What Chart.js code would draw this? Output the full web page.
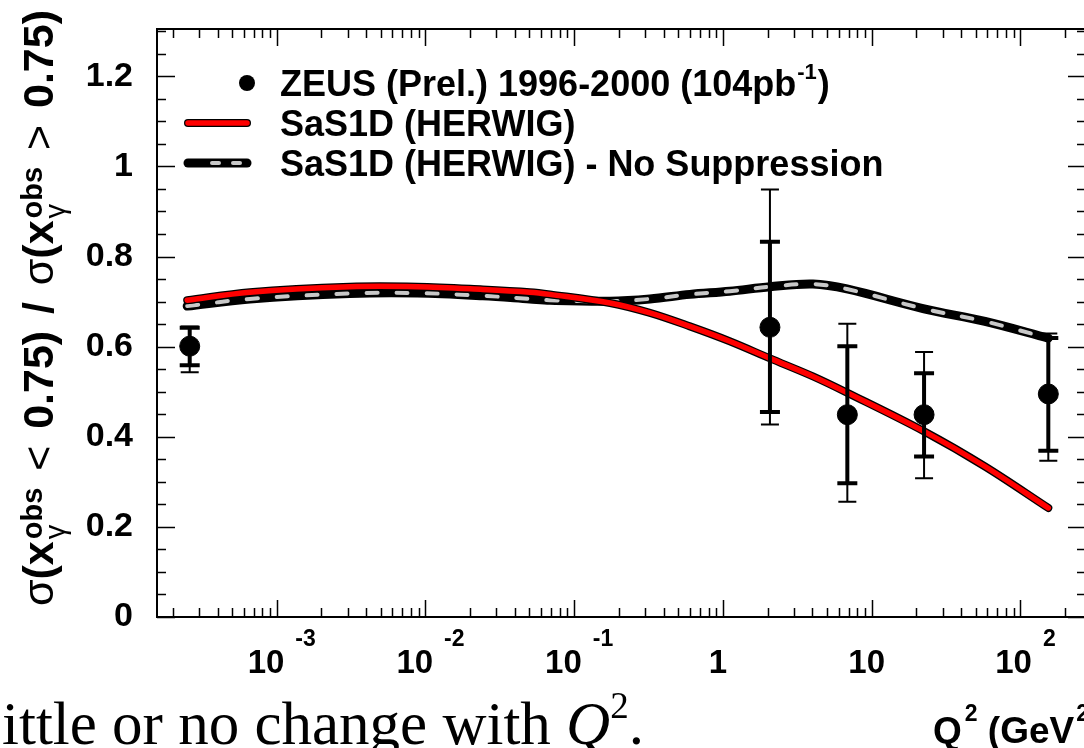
<!DOCTYPE html>
<html>
<head>
<meta charset="utf-8">
<script src="https://cdn.jsdelivr.net/npm/chart.js@4.4.1/dist/chart.umd.min.js"></script>
<style>
  html, body { margin: 0; padding: 0; background: #fff; overflow: hidden; }
  #wrap { position: relative; width: 1100px; height: 748px; }
</style>
</head>
<body>
<div id="wrap"><canvas id="ratioChart" width="1100" height="748"></canvas></div>
<script>
// ZEUS data: ratio sigma(x_gamma < 0.75) / sigma(x_gamma > 0.75) vs Q^2
const pointQ2 = [2.6e-4, 2.07, 6.86, 22.5, 154];
const pointRatio = [0.601, 0.643, 0.449, 0.449, 0.495];
const statHigh = [0.642, 0.833, 0.601, 0.541, 0.619];
const statLow = [0.559, 0.455, 0.297, 0.356, 0.369];
const totHigh = [0.645, 0.949, 0.651, 0.588, 0.629];
const totLow = [0.543, 0.427, 0.256, 0.308, 0.347];

// MC predictions
const curveQ2 = [2.5e-4, 6.6e-4, 3.1e-3, 8.8e-3, 0.0243, 0.0503, 0.0687, 0.174, 0.323, 0.60, 1.11, 2.07, 4.03, 6.82, 22.5, 57.8, 154];
const sas1d = [0.703, 0.721, 0.733, 0.733, 0.727, 0.721, 0.716, 0.697, 0.675, 0.645, 0.612, 0.574, 0.534, 0.498, 0.412, 0.334, 0.242];
const sas1dNoSup = [0.690, 0.706, 0.718, 0.719, 0.713, 0.706, 0.703, 0.701, 0.706, 0.716, 0.723, 0.733, 0.739, 0.728, 0.684, 0.656, 0.619];

// axis labels
const xDecades = [-3, -2, -1, 0, 1, 2];
const legendLabels = ['ZEUS (Prel.) 1996-2000 (104pb', 'SaS1D (HERWIG)', 'SaS1D (HERWIG) - No Suppression'];

const FONT = '"Liberation Sans", Arial, Helvetica, sans-serif';
const SERIF = '"Liberation Serif", "Times New Roman", serif';

function setFont(ctx, p) {
  ctx.font = (p.style || 'normal') + ' ' + (p.weight || 'bold') + ' ' + p.size + 'px ' + (p.family || FONT);
}

// draw a run of text pieces; "stack" pieces are sub/superscripts sharing one x,
// "flex" pieces get an equal share of extra room
function drawRich(ctx, x, y, parts, measureOnly, extra) {
  let cx = x;
  for (const p of parts) {
    if (p.stack) {
      let w = 0;
      for (const s of p.stack) {
        setFont(ctx, s);
        if (!measureOnly) ctx.fillText(s.t, cx + (s.dx || 0), y + (s.dy || 0));
        w = Math.max(w, ctx.measureText(s.t).width + (s.dx || 0));
      }
      cx += w;
    } else {
      setFont(ctx, p);
      const pad = (p.flex && extra) ? extra / 2 : 0;
      if (!measureOnly) ctx.fillText(p.t, cx + pad + (p.dx || 0), y + (p.dy || 0));
      cx += ctx.measureText(p.t).width + (p.dx || 0) + pad * 2;
    }
  }
  return cx - x;
}

const framePlugin = {
  id: 'frame',
  afterDatasetsDraw(chart) {
    const ctx = chart.ctx;
    const xs = chart.scales.x, ys = chart.scales.y;
    ctx.save();
    ctx.strokeStyle = '#000';
    ctx.fillStyle = '#000';
    // error bars: thin = total, thick = statistical
    for (let i = 0; i < pointQ2.length; i++) {
      const px = xs.getPixelForValue(pointQ2[i]);
      const tH = ys.getPixelForValue(totHigh[i]), tL = ys.getPixelForValue(totLow[i]);
      const sH = ys.getPixelForValue(statHigh[i]), sL = ys.getPixelForValue(statLow[i]);
      ctx.lineWidth = 2;
      ctx.beginPath();
      ctx.moveTo(px, tH); ctx.lineTo(px, tL);
      ctx.moveTo(px - 9, tH); ctx.lineTo(px + 9, tH);
      ctx.moveTo(px - 9, tL); ctx.lineTo(px + 9, tL);
      ctx.stroke();
      ctx.lineWidth = 4;
      ctx.beginPath();
      ctx.moveTo(px, sH); ctx.lineTo(px, sL);
      ctx.moveTo(px - 10, sH); ctx.lineTo(px + 10, sH);
      ctx.moveTo(px - 10, sL); ctx.lineTo(px + 10, sL);
      ctx.stroke();
    }
    ctx.restore();
  },
  afterDraw(chart) {
    const ctx = chart.ctx;
    const a = chart.chartArea;
    const xs = chart.scales.x, ys = chart.scales.y;
    ctx.save();
    ctx.strokeStyle = '#000';
    ctx.fillStyle = '#000';

    // frame
    ctx.lineWidth = 2;
    ctx.strokeRect(a.left, a.top, a.right - a.left, a.bottom - a.top);

    // y ticks (inside, left and right)
    ctx.lineWidth = 1.5;
    ctx.beginPath();
    for (let k = 0; k <= 26; k++) {
      const v = k * 0.05;
      const py = Math.round(ys.getPixelForValue(v)) + 0.5;
      const len = (k % 4 === 0) ? 18 : 9;
      ctx.moveTo(a.left, py); ctx.lineTo(a.left + len, py);
      ctx.moveTo(a.right, py); ctx.lineTo(a.right - len, py);
    }
    // x ticks (inside, bottom and top)
    for (let e = -4; e <= 2; e++) {
      for (let m = 1; m <= 9; m++) {
        const q = m * Math.pow(10, e);
        if (q < xs.min || q > xs.max) continue;
        const px = Math.round(xs.getPixelForValue(q)) + 0.5;
        const len = m === 1 ? 17 : 9;
        ctx.moveTo(px, a.bottom); ctx.lineTo(px, a.bottom - len);
        ctx.moveTo(px, a.top); ctx.lineTo(px, a.top + len);
      }
    }
    ctx.stroke();

    // x tick labels with exponents
    ctx.textAlign = 'left';
    ctx.textBaseline = 'alphabetic';
    xDecades.forEach(e => {
      const px = xs.getPixelForValue(Math.pow(10, e));
      let parts;
      if (e === 0) parts = [{ t: '1', size: 33 }];
      else if (e === 1) parts = [{ t: '10', size: 33 }];
      else parts = [{ t: '10', size: 33 }, { t: String(e), size: 23, dy: -27, dx: 11 }];
      const w = drawRich(ctx, 0, 0, parts, true);
      const shift = parts.length > 1 ? 5 : -5;
      drawRich(ctx, px - w / 2 + shift, 673, parts);
    });

    // x axis title
    drawRich(ctx, 933, 743, [
      { t: 'Q', size: 37 }, { t: '2', size: 23, dy: -22, dx: 3 },
      { t: ' (GeV', size: 37 }, { t: '2', size: 23, dy: -22, dx: 2 }, { t: ')', size: 37 }
    ]);

    // y axis title, rotated, stretched to run from y=606 up to y=10
    const xg = (sign) => [
      { t: '\u03C3', size: 43, weight: 'normal' }, { t: '(x', size: 43 },
      { stack: [{ t: '\u03B3', size: 29, weight: 'normal', dy: 12, dx: 2 }, { t: 'obs', size: 29, dy: -11, dx: 2 }] },
      { t: ' ' + sign + ' ', size: 43, weight: 'normal', flex: true }, { t: '0.75)', size: 43 }
    ];
    const title = xg('<').concat([{ t: ' / ', size: 43, flex: true }], xg('>'));
    const tw = drawRich(ctx, 0, 0, title, true);
    const extra = Math.max(0, (596 - tw) / 3);
    ctx.save();
    ctx.translate(53, 606);
    ctx.rotate(-Math.PI / 2);
    drawRich(ctx, 0, 0, title, false, extra);
    ctx.restore();

    // legend
    const rows = [83, 123, 163];
    ctx.beginPath();
    ctx.arc(247, rows[0], 8, 0, Math.PI * 2);
    ctx.fill();
    ctx.lineCap = 'round';
    ctx.lineWidth = 8; ctx.strokeStyle = '#000';
    ctx.beginPath(); ctx.moveTo(188, rows[1]); ctx.lineTo(247, rows[1]); ctx.stroke();
    ctx.lineWidth = 5.5; ctx.strokeStyle = '#ff0000';
    ctx.beginPath(); ctx.moveTo(188, rows[1]); ctx.lineTo(247, rows[1]); ctx.stroke();
    ctx.lineWidth = 9; ctx.strokeStyle = '#000';
    ctx.beginPath(); ctx.moveTo(188, rows[2]); ctx.lineTo(247, rows[2]); ctx.stroke();
    ctx.lineWidth = 4; ctx.strokeStyle = '#c8c8c8';
    ctx.setLineDash([7, 14]);
    ctx.beginPath(); ctx.moveTo(212, rows[2]); ctx.lineTo(247, rows[2]); ctx.stroke();
    ctx.setLineDash([]);
    ctx.fillStyle = '#000';
    drawRich(ctx, 280, rows[0] + 13, [{ t: legendLabels[0], size: 36 }, { t: '-1', size: 22, dy: -17, dx: 1 }, { t: ')', size: 36, dx: 1 }]);
    drawRich(ctx, 280, rows[1] + 13, [{ t: legendLabels[1], size: 36 }]);
    drawRich(ctx, 280, rows[2] + 13, [{ t: legendLabels[2], size: 36 }]);

    // slide caption fragment under the plot
    drawRich(ctx, 2, 744, [
      { t: 'ittle or no change with ', size: 61, weight: 'normal', family: SERIF },
      { t: 'Q', size: 61, weight: 'normal', style: 'italic', family: SERIF },
      { t: '2', size: 37, weight: 'normal', family: SERIF, dy: -26 },
      { t: '.', size: 61, weight: 'normal', family: SERIF }
    ]);
    ctx.restore();
  }
};

const toXY = (xsArr, ysArr) => xsArr.map((q, i) => ({ x: q, y: ysArr[i] }));

new Chart(document.getElementById('ratioChart').getContext('2d'), {
  type: 'line',
  data: {
    datasets: [
      { label: 'SaS1D (HERWIG) - No Suppression outline', data: toXY(curveQ2, sas1dNoSup), borderColor: '#000', borderWidth: 9,
        pointRadius: 0, tension: 0.35, borderCapStyle: 'round', order: 5 },
      { label: 'SaS1D (HERWIG) - No Suppression', data: toXY(curveQ2, sas1dNoSup), borderColor: '#c8c8c8', borderWidth: 4,
        borderDash: [11, 19], borderCapStyle: 'round', pointRadius: 0, tension: 0.35, order: 4 },
      { label: 'SaS1D (HERWIG) outline', data: toXY(curveQ2, sas1d), borderColor: '#000', borderWidth: 8,
        pointRadius: 0, tension: 0.35, borderCapStyle: 'round', order: 3 },
      { label: 'SaS1D (HERWIG)', data: toXY(curveQ2, sas1d), borderColor: '#ff0000', borderWidth: 5.5,
        pointRadius: 0, tension: 0.35, borderCapStyle: 'round', order: 2 },
      { label: 'ZEUS (Prel.) 1996-2000', data: toXY(pointQ2, pointRatio), showLine: false, pointRadius: 10,
        pointBackgroundColor: '#000', pointBorderColor: '#000', borderColor: '#000', order: 1 }
    ]
  },
  options: {
    responsive: false,
    animation: false,
    layout: { padding: { left: 0, top: 29, right: 14, bottom: 0 } },
    plugins: { legend: { display: false }, tooltip: { enabled: false } },
    scales: {
      x: {
        type: 'logarithmic', min: 1.567e-4, max: 276,
        grid: { display: false, drawTicks: false }, border: { display: false },
        ticks: { display: false },
        afterFit(s) { s.height = 131; s.paddingLeft = 0; s.paddingRight = 0; }
      },
      y: {
        type: 'linear', min: 0, max: 1.305,
        grid: { display: false, drawTicks: false }, border: { display: false },
        ticks: {
          stepSize: 0.2, includeBounds: false, padding: 24, color: '#000',
          font: { family: FONT, size: 34, weight: 'bold' },
          callback: v => String(Math.round(v * 10) / 10)
        },
        afterFit(s) { s.width = 157; s.paddingTop = 0; s.paddingBottom = 0; }
      }
    }
  },
  plugins: [framePlugin]
});
</script>
</body>
</html>
